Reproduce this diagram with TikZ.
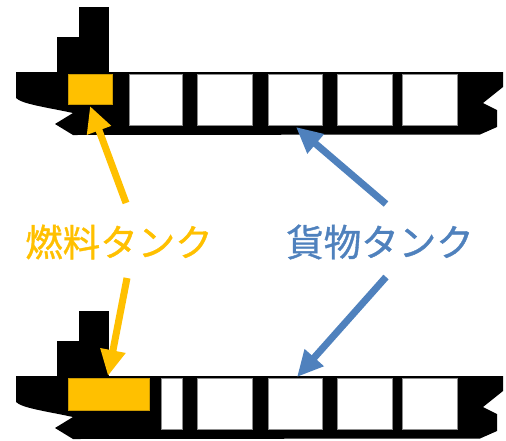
\documentclass[tikz,border=0pt]{standalone}
\usepackage{fontspec}
\newfontfamily\jpfont[FakeBold=1]{Noto Sans CJK JP}
\usetikzlibrary{arrows.meta}
\definecolor{fuelcol}{HTML}{FFC000}
\definecolor{cargocol}{HTML}{4F81BD}
\tikzset{
  hull/.style={fill=black, draw=none},
  cargotank/.style={fill=white, draw=black!45, line width=0.6pt, inner sep=0pt, outer sep=0pt, anchor=north west},
  fueltank/.style={fill=fuelcol, draw=fuelcol!80!black, line width=0.6pt, inner sep=0pt, outer sep=0pt, anchor=north west},
  label/.style={font=\jpfont\fontsize{37.5}{40}\selectfont, inner sep=0pt},
  fuelarrow/.style={draw=fuelcol, line width=7pt, -{Triangle[length=26pt,width=24pt]}},
  cargoarrow/.style={draw=cargocol, line width=7pt, -{Triangle[length=26pt,width=24pt]}},
}
% one ship silhouette; #1 = vertical offset
\newcommand{\shipbody}[1]{%
  \begin{scope}[yshift=-#1pt]
    \fill[hull] (57,37) rectangle (109,73);
    \fill[hull] (79,7) rectangle (109,38);
    \fill[hull] (16,72) -- (503,72) -- (503,87) -- (483,103) -- (497,110)
      -- (497,127) -- (480,134.5) -- (73,135) -- (55,124) -- (73,113)
      .. controls (45,107) and (22,104) .. (16,98) -- cycle;
  \end{scope}}
\begin{document}
\begin{tikzpicture}[x=1pt,y=-1pt]
  \useasboundingbox (0,0) rectangle (506,440);
  % upper ship
  \shipbody{0}
  \node[fueltank, minimum width=44pt, minimum height=30pt] (ftop) at (68,74) {};
  \node[cargotank, minimum width=53pt, minimum height=51pt] (ta1) at (129,74) {};
  \node[cargotank, minimum width=55pt, minimum height=51pt] (ta2) at (197,74) {};
  \node[cargotank, minimum width=54pt, minimum height=51pt] (ta3) at (268,74) {};
  \node[cargotank, minimum width=55pt, minimum height=51pt] (ta4) at (337,74) {};
  \node[cargotank, minimum width=55pt, minimum height=51pt] (ta5) at (402,74) {};
  % lower ship
  \shipbody{304}
  \node[fueltank, minimum width=81pt, minimum height=32pt] (fbot) at (68,378) {};
  \node[cargotank, minimum width=21pt, minimum height=51pt] (tb1) at (161,378) {};
  \node[cargotank, minimum width=55pt, minimum height=51pt] (tb2) at (197,378) {};
  \node[cargotank, minimum width=54pt, minimum height=51pt] (tb3) at (268,378) {};
  \node[cargotank, minimum width=55pt, minimum height=51pt] (tb4) at (337,378) {};
  \node[cargotank, minimum width=55pt, minimum height=51pt] (tb5) at (402,378) {};
  % labels
  \node[label, text=fuelcol] (flabel) at (119,242) {燃料タンク};
  \node[label, text=cargocol] (clabel) at (380,242) {貨物タンク};
  % arrow tails
  \coordinate (fup) at (126,203);
  \coordinate (fdown) at (127,278);
  \coordinate (cup) at (386,204);
  \coordinate (cdown) at (386,277);
  % arrows
  \draw[fuelarrow] (fup) -- ([yshift=-2pt]ftop.south);
  \draw[fuelarrow] (fdown) -- ([xshift=-0.5pt,yshift=2pt]fbot.north);
  \draw[cargoarrow] (cup) -- ([xshift=1pt,yshift=-2pt]ta3.south);
  \draw[cargoarrow] (cdown) -- ([xshift=2pt,yshift=1pt]tb3.north);
\end{tikzpicture}
\end{document}
